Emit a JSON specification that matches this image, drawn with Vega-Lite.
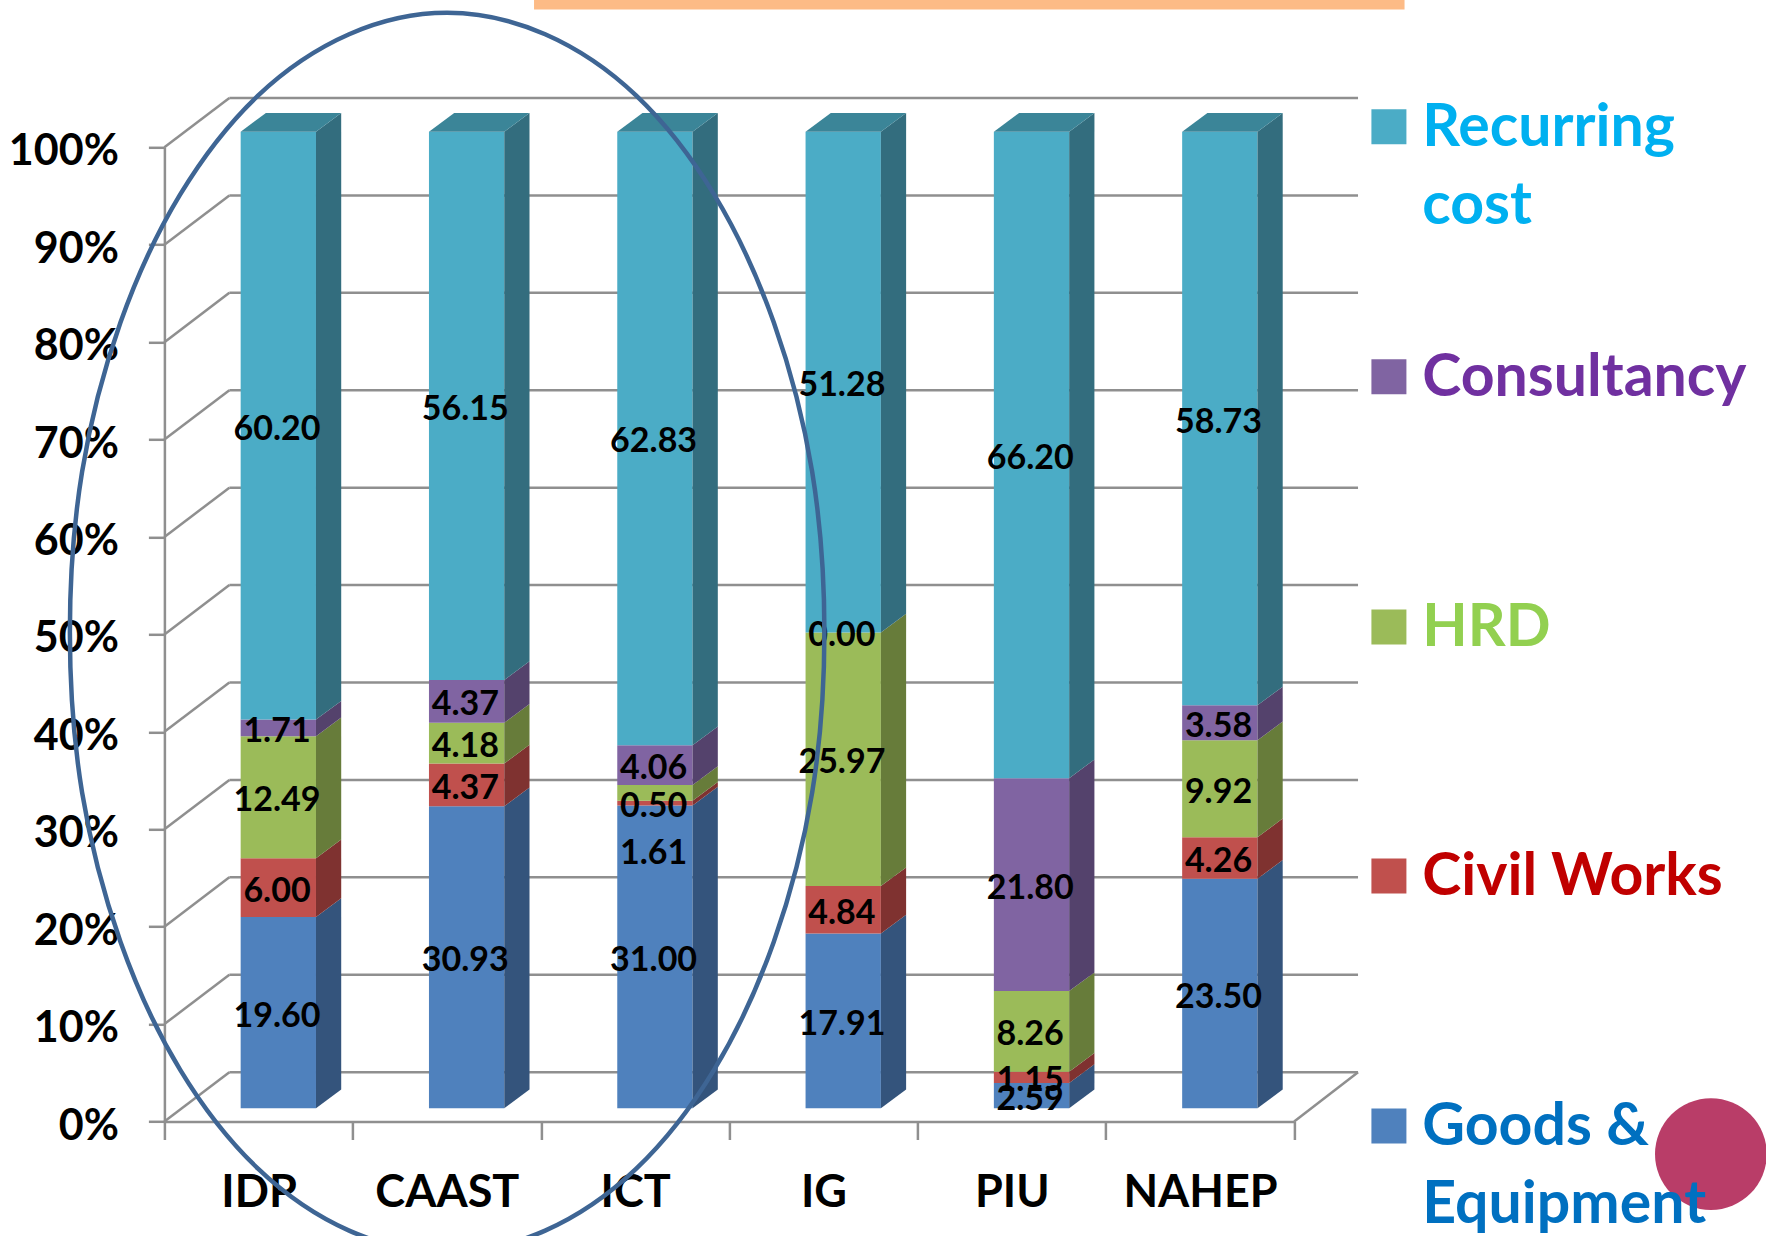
{
"$schema":"https://vega.github.io/schema/vega-lite/v6.json",
"width":1129.8,"height":974.2,
"autosize":{"type":"none"},
"padding":{"left":164.4,"top":147.3,"right":471.8,"bottom":114.5},
"background":"white",
"config":{"view":{"stroke":null},"text":{"font":"Lato"}},
"datasets":{
"costs":[
{"project":"IDP","item":"Goods & Equipment","rank":0,"value":19.60},{"project":"IDP","item":"Civil Works","rank":1,"value":6.00},{"project":"IDP","item":"HRD","rank":2,"value":12.49},{"project":"IDP","item":"Consultancy","rank":3,"value":1.71},{"project":"IDP","item":"Recurring cost","rank":4,"value":60.20},
{"project":"CAAST","item":"Goods & Equipment","rank":0,"value":30.93},{"project":"CAAST","item":"Civil Works","rank":1,"value":4.37},{"project":"CAAST","item":"HRD","rank":2,"value":4.18},{"project":"CAAST","item":"Consultancy","rank":3,"value":4.37},{"project":"CAAST","item":"Recurring cost","rank":4,"value":56.15},
{"project":"ICT","item":"Goods & Equipment","rank":0,"value":31.00},{"project":"ICT","item":"Civil Works","rank":1,"value":0.50},{"project":"ICT","item":"HRD","rank":2,"value":1.61},{"project":"ICT","item":"Consultancy","rank":3,"value":4.06},{"project":"ICT","item":"Recurring cost","rank":4,"value":62.83},
{"project":"IG","item":"Goods & Equipment","rank":0,"value":17.91},{"project":"IG","item":"Civil Works","rank":1,"value":4.84},{"project":"IG","item":"HRD","rank":2,"value":25.97},{"project":"IG","item":"Consultancy","rank":3,"value":0.00},{"project":"IG","item":"Recurring cost","rank":4,"value":51.28},
{"project":"PIU","item":"Goods & Equipment","rank":0,"value":2.59},{"project":"PIU","item":"Civil Works","rank":1,"value":1.15},{"project":"PIU","item":"HRD","rank":2,"value":8.26},{"project":"PIU","item":"Consultancy","rank":3,"value":21.80},{"project":"PIU","item":"Recurring cost","rank":4,"value":66.20},
{"project":"NAHEP","item":"Goods & Equipment","rank":0,"value":23.50},{"project":"NAHEP","item":"Civil Works","rank":1,"value":4.26},{"project":"NAHEP","item":"HRD","rank":2,"value":9.92},{"project":"NAHEP","item":"Consultancy","rank":3,"value":3.58},{"project":"NAHEP","item":"Recurring cost","rank":4,"value":58.73}
],
"grid":[{"pct":0},{"pct":10},{"pct":20},{"pct":30},{"pct":40},{"pct":50},{"pct":60},{"pct":70},{"pct":80},{"pct":90},{"pct":100}],
"legend":[
{"item":"Recurring cost","text":"Recurring|cost","sx":6.503,"sy":102.1,"tx":6.68,"ty":100.15},
{"item":"Consultancy","text":"Consultancy","sx":6.503,"sy":76.44,"tx":6.68,"ty":74.49},
{"item":"HRD","text":"HRD","sx":6.503,"sy":50.77,"tx":6.68,"ty":48.82},
{"item":"Civil Works","text":"Civil Works","sx":6.503,"sy":25.2,"tx":6.68,"ty":23.25},
{"item":"Goods & Equipment","text":"Goods &|Equipment","sx":6.503,"sy":-0.46,"tx":6.68,"ty":-2.41}
],
"oval":[
{"seq":0,"x":3.505,"y":50.23},{"seq":1,"x":3.44,"y":33.76},{"seq":2,"x":3.236,"y":18.43},{"seq":3,"x":2.919,"y":5.3},{"seq":4,"x":2.506,"y":-4.84},{"seq":5,"x":2.022,"y":-11.2},{"seq":6,"x":1.501,"y":-13.4},{"seq":7,"x":0.981,"y":-11.2},{"seq":8,"x":0.497,"y":-4.84},{"seq":9,"x":0.084,"y":5.3},{"seq":10,"x":-0.233,"y":18.43},{"seq":11,"x":-0.437,"y":33.76},{"seq":12,"x":-0.502,"y":50.23},{"seq":13,"x":-0.437,"y":66.7},{"seq":14,"x":-0.233,"y":82.03},{"seq":15,"x":0.084,"y":95.16},{"seq":16,"x":0.497,"y":105.3},{"seq":17,"x":0.981,"y":111.6},{"seq":18,"x":1.501,"y":113.8},{"seq":19,"x":2.022,"y":111.6},{"seq":20,"x":2.506,"y":105.3},{"seq":21,"x":2.919,"y":95.16},{"seq":22,"x":3.236,"y":82.03},{"seq":23,"x":3.44,"y":66.7}
],
"banner":[{"x":1.963,"x2":6.586,"y":114.15,"y2":120}],
"marker":[{"x":8.213,"y":-3.34}]
},
"resolve":{"scale":{"x":"independent"},"axis":{"x":"independent"}},
"layer":[
{
"data":{"name":"costs"},
"mark":{"type":"tick","opacity":0},
"encoding":{
"x":{"field":"project","type":"nominal","title":null,
"scale":{"type":"band","domain":["IDP","CAAST","ICT","IG","PIU","NAHEP"],"paddingInner":0,"paddingOuter":0},
"axis":{"tickBand":"extent","labelAngle":0,"labelFont":"Lato","labelFontWeight":"bold","labelFontSize":45,"labelColor":"#000000","labelPadding":31,"tickSize":18,"tickWidth":2.5,"tickColor":"#8f8f8f","domainWidth":2.5,"domainColor":"#8f8f8f","grid":false}},
"y":{"field":"value","type":"quantitative","title":null,
"scale":{"domain":[0,100],"nice":false,"zero":false},
"axis":{"values":[0,10,20,30,40,50,60,70,80,90,100],"labelExpr":"datum.value+'%'","labelFont":"Lato","labelFontWeight":"bold","labelFontSize":43,"labelColor":"#000000","labelPadding":30,"labelOffset":4.5,"tickSize":16,"tickWidth":2.5,"tickColor":"#8f8f8f","domainWidth":2.5,"domainColor":"#8f8f8f","grid":false}}
}
},
{
"layer":[
{"data":{"name":"grid"},"transform":[{"calculate":"datum.pct+5.06","as":"back"},{"calculate":"0","as":"front"},{"calculate":"0.345","as":"xback"}],
"mark":{"type":"rule","color":"#8f8f8f","strokeWidth":2.5},
"encoding":{"x":{"field":"front","type":"quantitative","scale":{"domain":[0,6],"nice":false,"zero":false},"axis":null},"x2":{"field":"xback"},"y":{"field":"pct","type":"quantitative","title":null,"scale":{"domain":[0,100],"nice":false,"zero":false}},"y2":{"field":"back"}}},
{"data":{"name":"grid"},"transform":[{"calculate":"datum.pct+5.06","as":"back"},{"calculate":"0.345","as":"xa"},{"calculate":"6.339","as":"xb"}],
"mark":{"type":"rule","color":"#8f8f8f","strokeWidth":2.5},
"encoding":{"x":{"field":"xa","type":"quantitative","scale":{"domain":[0,6],"nice":false,"zero":false},"axis":null},"x2":{"field":"xb"},"y":{"field":"back","type":"quantitative","title":null,"scale":{"domain":[0,100],"nice":false,"zero":false}}}},
{"data":{"name":"grid"},"transform":[{"filter":"datum.pct==0"},{"calculate":"5.06","as":"back"},{"calculate":"6","as":"xa"},{"calculate":"6.339","as":"xb"}],
"mark":{"type":"rule","color":"#8f8f8f","strokeWidth":2.5},
"encoding":{"x":{"field":"xa","type":"quantitative","scale":{"domain":[0,6],"nice":false,"zero":false},"axis":null},"x2":{"field":"xb"},"y":{"field":"pct","type":"quantitative","title":null,"scale":{"domain":[0,100],"nice":false,"zero":false}},"y2":{"field":"back"}}},
{"data":{"name":"costs"},
"transform":[
{"stack":"value","groupby":["project"],"sort":[{"field":"rank","order":"ascending"}],"as":["v0","v1"]},
{"calculate":"indexof(['IDP','CAAST','ICT','IG','PIU','NAHEP'],datum.project)","as":"idx"},
{"calculate":"datum.idx+0.405","as":"xl"},{"calculate":"datum.idx+0.805","as":"xr"},
{"calculate":"1.355+1.0025*datum.v0","as":"b0"},{"calculate":"1.355+1.0025*datum.v1","as":"b1"}
],
"mark":{"type":"rect","stroke":null},
"encoding":{"x":{"field":"xl","type":"quantitative","scale":{"domain":[0,6],"nice":false,"zero":false},"axis":null},"x2":{"field":"xr"},"y":{"field":"b0","type":"quantitative","title":null,"scale":{"domain":[0,100],"nice":false,"zero":false}},"y2":{"field":"b1"},
"color":{"field":"item","type":"nominal","legend":null,"scale":{"domain":["Goods & Equipment","Civil Works","HRD","Consultancy","Recurring cost","Goods & Equipment side","Civil Works side","HRD side","Consultancy side","Recurring cost side","top","Goods & Equipment label","Civil Works label","HRD label","Consultancy label","Recurring cost label"],"range":["#4f81bd","#c0504d","#9bbb59","#8064a2","#4bacc6","#34547c","#7f3230","#677c3a","#54426c","#336d7e","#3b8598","#0070c0","#c00000","#92d050","#7030a0","#00b0f0"]}}}},
{"data":{"name":"costs"},
"transform":[
{"stack":"value","groupby":["project"],"sort":[{"field":"rank","order":"ascending"}],"as":["v0","v1"]},
{"calculate":"indexof(['IDP','CAAST','ICT','IG','PIU','NAHEP'],datum.project)","as":"idx"},
{"calculate":"[0,1]","as":"k"},{"flatten":["k"]},
{"calculate":"datum.idx+0.805+0.134*datum.k","as":"sx"},
{"calculate":"1.355+1.0025*datum.v0+1.92*datum.k","as":"b0"},{"calculate":"1.355+1.0025*datum.v1+1.92*datum.k","as":"b1"},
{"calculate":"datum.item+' side'","as":"face"}
],
"mark":{"type":"area","interpolate":"linear"},
"encoding":{"x":{"field":"sx","type":"quantitative","scale":{"domain":[0,6],"nice":false,"zero":false},"axis":null},"y":{"field":"b0","type":"quantitative","title":null,"scale":{"domain":[0,100],"nice":false,"zero":false},"stack":null},"y2":{"field":"b1"},"color":{"field":"face","type":"nominal","legend":null},"detail":{"field":"project"}}},
{"data":{"name":"costs"},
"transform":[
{"filter":"datum.rank==4"},
{"calculate":"indexof(['IDP','CAAST','ICT','IG','PIU','NAHEP'],datum.project)","as":"idx"},
{"calculate":"[0,1,2,3]","as":"k"},{"flatten":["k"]},
{"calculate":"datum.idx+0.405+[0,0.134,0.4,0.534][datum.k]","as":"tx"},
{"calculate":"101.6+[0,0,0,1.92][datum.k]","as":"lo"},{"calculate":"101.6+[0,1.92,1.92,1.92][datum.k]","as":"hi"},
{"calculate":"'top'","as":"face"}
],
"mark":{"type":"area","interpolate":"linear"},
"encoding":{"x":{"field":"tx","type":"quantitative","scale":{"domain":[0,6],"nice":false,"zero":false},"axis":null},"y":{"field":"lo","type":"quantitative","title":null,"scale":{"domain":[0,100],"nice":false,"zero":false},"stack":null},"y2":{"field":"hi"},"color":{"field":"face","type":"nominal","legend":null},"detail":{"field":"project"}}},
{"data":{"name":"costs"},
"transform":[
{"stack":"value","groupby":["project"],"sort":[{"field":"rank","order":"ascending"}],"as":["v0","v1"]},
{"calculate":"indexof(['IDP','CAAST','ICT','IG','PIU','NAHEP'],datum.project)+0.598","as":"lx"},
{"calculate":"datum.project=='ICT'&&datum.rank==2?27.9:1.355+1.0025*(datum.v0+datum.v1)/2","as":"ly"},
{"calculate":"format(datum.value,'.2f')","as":"lab"}
],
"mark":{"type":"text","font":"Lato","fontWeight":"bold","fontSize":34,"color":"#000000","baseline":"middle","align":"center","dy":4},
"encoding":{"x":{"field":"lx","type":"quantitative","scale":{"domain":[0,6],"nice":false,"zero":false},"axis":null},"y":{"field":"ly","type":"quantitative","title":null,"scale":{"domain":[0,100],"nice":false,"zero":false}},"text":{"field":"lab"}}},
{"data":{"name":"oval"},
"mark":{"type":"line","interpolate":"cardinal-closed","stroke":"#3e6594","strokeWidth":4.5},
"encoding":{"x":{"field":"x","type":"quantitative","scale":{"domain":[0,6],"nice":false,"zero":false},"axis":null},"y":{"field":"y","type":"quantitative","title":null,"scale":{"domain":[0,100],"nice":false,"zero":false}},"order":{"field":"seq"}}},
{"data":{"name":"banner"},
"mark":{"type":"rect","color":"#fdbb86"},
"encoding":{"x":{"field":"x","type":"quantitative","scale":{"domain":[0,6],"nice":false,"zero":false},"axis":null},"x2":{"field":"x2"},"y":{"field":"y","type":"quantitative","title":null,"scale":{"domain":[0,100],"nice":false,"zero":false}},"y2":{"field":"y2"}}},
{"data":{"name":"marker"},
"mark":{"type":"point","shape":"circle","filled":true,"size":12500,"color":"#b93d68","opacity":1},
"encoding":{"x":{"field":"x","type":"quantitative","scale":{"domain":[0,6],"nice":false,"zero":false},"axis":null},"y":{"field":"y","type":"quantitative","title":null,"scale":{"domain":[0,100],"nice":false,"zero":false}}}},
{"data":{"name":"legend"},
"mark":{"type":"point","shape":"square","filled":true,"size":1225,"opacity":1},
"encoding":{"x":{"field":"sx","type":"quantitative","scale":{"domain":[0,6],"nice":false,"zero":false},"axis":null},"y":{"field":"sy","type":"quantitative","title":null,"scale":{"domain":[0,100],"nice":false,"zero":false}},"color":{"field":"item","type":"nominal","legend":null}}},
{"data":{"name":"legend"},
"transform":[{"calculate":"datum.item+' label'","as":"face"}],
"mark":{"type":"text","font":"Lato","fontWeight":"bold","fontSize":59,"align":"left","baseline":"alphabetic","lineBreak":"|","lineHeight":78},
"encoding":{"x":{"field":"tx","type":"quantitative","scale":{"domain":[0,6],"nice":false,"zero":false},"axis":null},"y":{"field":"ty","type":"quantitative","title":null,"scale":{"domain":[0,100],"nice":false,"zero":false}},"text":{"field":"text"},"color":{"field":"face","type":"nominal","legend":null}}}
]
}
]
}
